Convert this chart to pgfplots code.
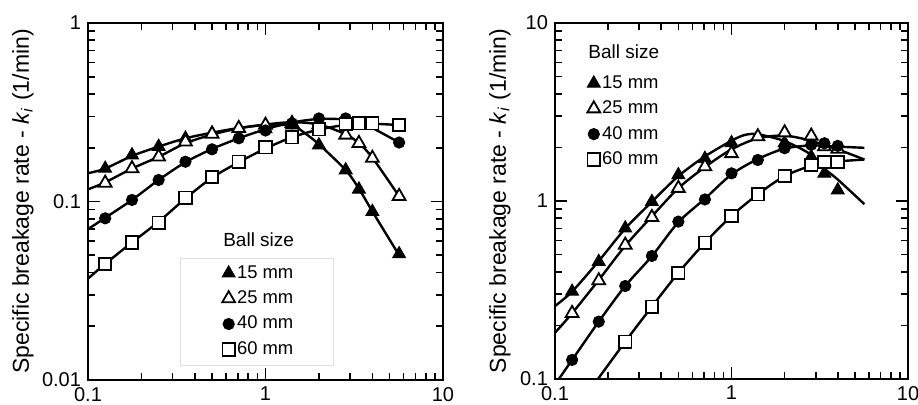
\documentclass[border=0pt]{standalone}
\usepackage{fontspec}
\setmainfont{Liberation Sans}
\usepackage{pgfplots}
\pgfplotsset{compat=1.18}

\tikzset{
  m15/.style={mark=triangle*, mark size=3.7pt,
    mark options={fill=black, draw=black, line width=0.5pt}},
  m25/.style={mark=triangle*, mark size=3.7pt,
    mark options={fill=white, draw=black, line width=0.9pt}},
  m40/.style={mark=*, mark size=2.8pt,
    mark options={fill=black, draw=black, line width=0.5pt}},
  m60/.style={mark=square*, mark size=3.1pt,
    mark options={fill=white, draw=black, line width=0.9pt}},
  fitline/.style={smooth, tension=0.5, line width=1.2pt, black},
}

\begin{document}
\begin{tikzpicture}
\useasboundingbox (0,0) rectangle (459pt,202.5pt);

% ---------- left panel ----------
\begin{axis}[
  xmode=log, ymode=log, scale only axis, anchor=south west,
  at={(44pt,12.5pt)}, width=177.5pt, height=178.5pt,
  xmin=0.1, xmax=10, ymin=0.01, ymax=1,
  xtick={0.1,1,10}, xticklabels={0.1,1,10},
  ytick={0.01,0.1,1}, yticklabels={0.01,0.1,1},
  tick align=inside, xtick pos=both, ytick pos=both,
  major tick length=6pt, minor tick length=3.5pt,
  axis line style={line width=1.1pt},
  every tick/.style={black, line width=0.8pt},
  tick label style={font=\fontsize{10}{12}\selectfont},
  ylabel={\fontsize{11.5}{14}\selectfont Specific breakage rate - \textit{k}\textsubscript{\textit{i}} (1/min)},
  ylabel style={at={(axis description cs:-0.183,0.5)}, anchor=center},
  legend cell align=left,
  legend image code/.code={\draw[mark repeat=2,mark phase=2,#1] plot coordinates {(0pt,0pt) (3pt,0pt) (6pt,0pt)};},
  legend style={at={(axis description cs:0.394,0.3025)}, anchor=north west,
    xshift=-3pt, yshift=4.5pt, draw=none, fill=none, inner sep=0pt,
    row sep=2.8pt, nodes={inner sep=1pt}, font=\fontsize{9.2}{11}\selectfont},
]
% fitted curves
\addplot[fitline, no marks, forget plot] coordinates {(0.1,0.144) (0.125,0.153) (0.177,0.180) (0.25,0.203) (0.354,0.226) (0.5,0.243) (0.707,0.258) (1,0.268) (1.41,0.266) (1.68,0.240) (2,0.209) (2.83,0.150) (3.36,0.118) (4,0.088) (5.66,0.050)};
\addplot[fitline, no marks, forget plot] coordinates {(0.1,0.117) (0.125,0.128) (0.177,0.153) (0.25,0.178) (0.354,0.212) (0.5,0.237) (0.707,0.257) (1,0.270) (1.41,0.278) (2,0.270) (2.83,0.238) (3.36,0.212) (4,0.176) (5.66,0.107)};
\addplot[fitline, no marks, forget plot] coordinates {(0.1,0.070) (0.125,0.081) (0.177,0.102) (0.25,0.132) (0.354,0.166) (0.5,0.197) (0.707,0.226) (1,0.254) (1.41,0.277) (2,0.290) (2.83,0.288) (3.36,0.275) (4,0.258) (5.66,0.214)};
\addplot[fitline, no marks, forget plot] coordinates {(0.1,0.037) (0.125,0.0447) (0.177,0.059) (0.25,0.077) (0.354,0.104) (0.5,0.136) (0.707,0.166) (1,0.198) (1.41,0.229) (2,0.253) (2.83,0.269) (3.36,0.272) (4,0.273) (5.66,0.268)};
% measured points
\addplot[only marks, m15] coordinates {(0.125,0.153) (0.177,0.182) (0.25,0.203) (0.354,0.226) (0.5,0.241) (0.707,0.257) (1,0.255) (1.41,0.268) (2,0.207) (2.83,0.150) (3.36,0.117) (4,0.0877) (5.66,0.0508)};
\addlegendentry{15 mm}
\addplot[only marks, m25] coordinates {(0.125,0.127) (0.177,0.153) (0.25,0.178) (0.354,0.216) (0.5,0.239) (0.707,0.257) (1,0.268) (1.41,0.274) (2,0.270) (2.83,0.236) (3.36,0.212) (4,0.175) (5.66,0.107)};
\addlegendentry{25 mm}
\addplot[only marks, m40] coordinates {(0.125,0.0805) (0.177,0.102) (0.25,0.132) (0.354,0.167) (0.5,0.196) (0.707,0.226) (1,0.250) (1.41,0.274) (2,0.292) (2.83,0.292) (5.66,0.214)};
\addlegendentry{40 mm}
\addplot[only marks, m60] coordinates {(0.125,0.0447) (0.177,0.059) (0.25,0.076) (0.354,0.105) (0.5,0.137) (0.707,0.167) (1,0.201) (1.41,0.229) (2,0.254) (2.83,0.272) (3.36,0.274) (4,0.274) (5.66,0.268)};
\addlegendentry{60 mm}
\draw[gray!25, line width=0.4pt] (axis description cs:0.259,0.042) rectangle (axis description cs:0.690,0.342);
\node[anchor=west, inner sep=0pt, font=\fontsize{9.5}{11}\selectfont] at (axis description cs:0.380,0.392) {Ball size};
\end{axis}

% ---------- right panel ----------
\begin{axis}[
  xmode=log, ymode=log, scale only axis, anchor=south west,
  at={(277.5pt,13pt)}, width=176.5pt, height=178pt,
  xmin=0.1, xmax=10, ymin=0.1, ymax=10,
  xtick={0.1,1,10}, xticklabels={0.1,1,10},
  ytick={0.1,1,10}, yticklabels={0.1,1,10},
  tick align=inside, xtick pos=both, ytick pos=both,
  major tick length=6pt, minor tick length=3.5pt,
  axis line style={line width=1.1pt},
  every tick/.style={black, line width=0.8pt},
  tick label style={font=\fontsize{10}{12}\selectfont},
  ylabel={\fontsize{11.5}{14}\selectfont Specific breakage rate - \textit{k}\textsubscript{\textit{i}} (1/min)},
  ylabel style={at={(axis description cs:-0.156,0.5)}, anchor=center},
  legend cell align=left,
  legend image code/.code={\draw[mark repeat=2,mark phase=2,#1] plot coordinates {(0pt,0pt) (3pt,0pt) (6pt,0pt)};},
  legend style={at={(axis description cs:0.1076,0.834)}, anchor=north west,
    xshift=-3pt, yshift=4.5pt, draw=none, fill=none, inner sep=0pt,
    row sep=2.8pt, nodes={inner sep=1pt}, font=\fontsize{9.2}{11}\selectfont},
]
% fitted curves
\addplot[fitline, no marks, forget plot] coordinates {(0.1,0.257) (0.125,0.31) (0.177,0.46) (0.25,0.70) (0.354,0.99) (0.5,1.38) (0.707,1.78) (1,2.18) (1.19,2.35) (1.41,2.37) (2,2.17) (2.83,1.82) (3.36,1.52) (4,1.32) (5.66,0.96)};
\addplot[fitline, no marks, forget plot] coordinates {(0.1,0.182) (0.125,0.234) (0.177,0.36) (0.25,0.56) (0.354,0.82) (0.5,1.18) (0.707,1.55) (1,1.95) (1.41,2.25) (2,2.33) (2.83,2.18) (3.36,2.05) (4,1.95) (5.66,1.71)};
\addplot[fitline, no marks, forget plot] coordinates {(0.1,0.093) (0.125,0.128) (0.177,0.21) (0.25,0.333) (0.354,0.49) (0.5,0.76) (0.707,1.03) (1,1.41) (1.41,1.72) (2,1.97) (2.83,2.05) (4,2.02) (5.66,1.99)};
\addplot[fitline, no marks, forget plot] coordinates {(0.15,0.081) (0.25,0.162) (0.354,0.255) (0.5,0.395) (0.707,0.583) (1,0.824) (1.41,1.09) (2,1.38) (2.83,1.58) (3.36,1.64) (4,1.67) (5.66,1.71)};
% measured points
\addplot[only marks, m15] coordinates {(0.125,0.31) (0.177,0.456) (0.25,0.703) (0.354,0.99) (0.5,1.40) (0.707,1.73) (1,2.12) (1.41,2.30) (2,2.12) (2.83,1.77) (3.36,1.43) (4,1.15)};
\addlegendentry{15 mm}
\addplot[only marks, m25] coordinates {(0.125,0.234) (0.177,0.357) (0.25,0.566) (0.354,0.81) (0.5,1.18) (0.707,1.56) (1,1.85) (1.41,2.30) (2,2.42) (2.83,2.32) (3.36,2.02) (4,1.96)};
\addlegendentry{25 mm}
\addplot[only marks, m40] coordinates {(0.125,0.128) (0.177,0.210) (0.25,0.333) (0.354,0.491) (0.5,0.766) (0.707,1.02) (1,1.43) (1.41,1.70) (2,1.98) (2.83,2.07) (3.36,2.11) (4,2.04)};
\addlegendentry{40 mm}
\addplot[only marks, m60] coordinates {(0.25,0.162) (0.354,0.255) (0.5,0.395) (0.707,0.583) (1,0.824) (1.41,1.09) (2,1.38) (2.83,1.59) (3.36,1.66) (4,1.66)};
\addlegendentry{60 mm}
\node[anchor=west, inner sep=0pt, font=\fontsize{9.5}{11}\selectfont] at (axis description cs:0.0935,0.9185) {Ball size};
\end{axis}
\end{tikzpicture}
\end{document}
